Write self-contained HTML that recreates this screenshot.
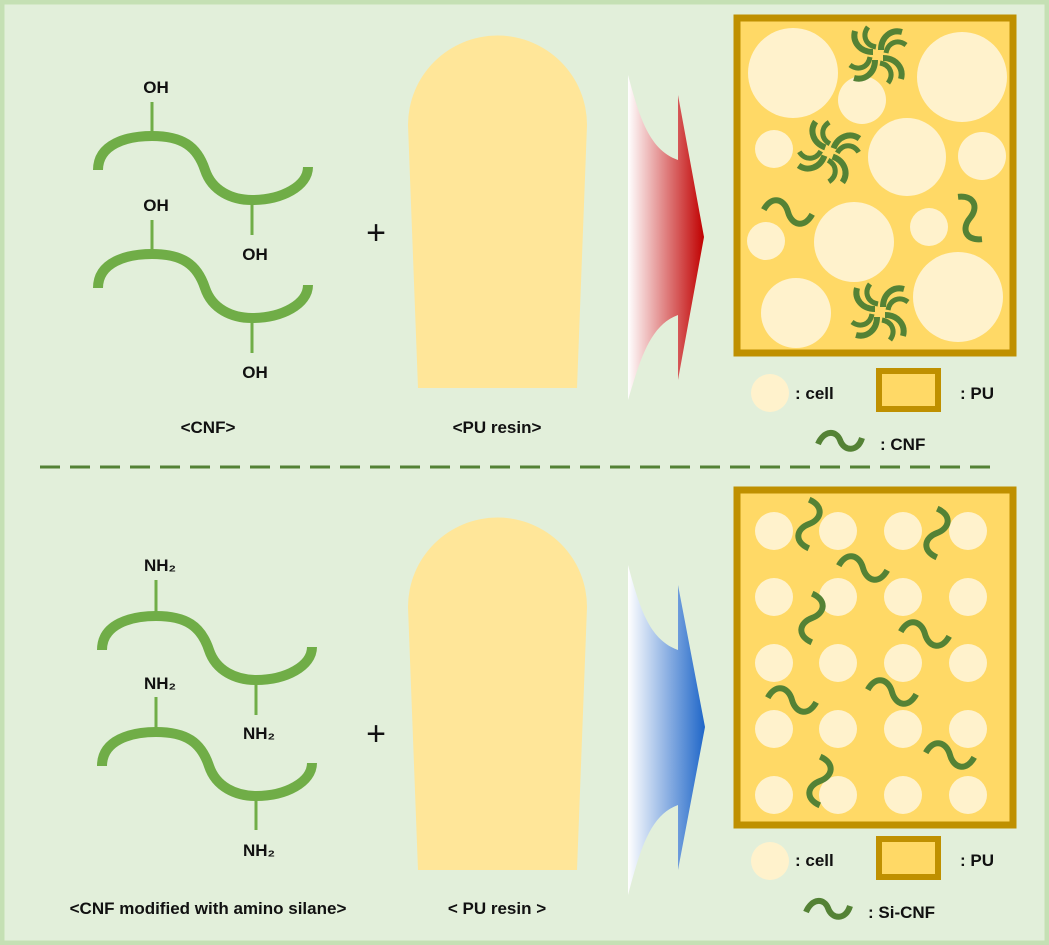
<!DOCTYPE html>
<html><head><meta charset="utf-8"><style>
body{margin:0;background:#e2efda;}
svg{display:block;}
text{font-family:"Liberation Sans",sans-serif;font-weight:bold;fill:#111;}
</style></head><body>
<svg width="1049" height="945" viewBox="0 0 1049 945" xmlns="http://www.w3.org/2000/svg">
<defs>
<linearGradient id="gr" x1="0" x2="1" y1="0" y2="0"><stop offset="0" stop-color="#fff"/><stop offset="1" stop-color="#c00000"/></linearGradient>
<linearGradient id="gb" x1="0" x2="1" y1="0" y2="0"><stop offset="0" stop-color="#fff"/><stop offset="1" stop-color="#1f66c8"/></linearGradient>
<g id="chain"><path d="M-54,34 C-54,8 -25,0 0,0 C30,0 45,10 53,34 C60,55 80,64 100,64 C130,64 156,50 156,31" fill="none" stroke="#70ad47" stroke-width="10"/></g>
<g id="sq"><path d="M-24,4 C-20,-12 -7,-12 0,0 C7,12 20,12 24,-4" fill="none" stroke="#548235" stroke-width="6"/></g>
<g id="hook"><path d="M3,-5 C3,-18 13,-26 24,-23" fill="none" stroke="#548235" stroke-width="6"/><path d="M8,-2 C10,-13 20,-16 28,-10" fill="none" stroke="#548235" stroke-width="5"/></g>
<g id="wm"><use href="#hook"/><use href="#hook" transform="rotate(90)"/><use href="#hook" transform="rotate(180)"/><use href="#hook" transform="rotate(270)"/></g>
<g id="pu"><path d="M408,125 A89,89 0 0 1 587,125 L577,388 L418,388 Z" fill="#ffe699"/></g>
</defs>
<rect x="2" y="2" width="1045" height="941" fill="#e2efda" stroke="#c5e0b4" stroke-width="5"/>

<g transform="translate(152,136)"><use href="#chain"/></g>
<line x1="152" y1="102" x2="152" y2="136" stroke="#70ad47" stroke-width="3"/>
<line x1="252" y1="200" x2="252" y2="235" stroke="#70ad47" stroke-width="3"/>
<g transform="translate(152,254)"><use href="#chain"/></g>
<line x1="152" y1="220" x2="152" y2="254" stroke="#70ad47" stroke-width="3"/>
<line x1="252" y1="318" x2="252" y2="353" stroke="#70ad47" stroke-width="3"/>
<g font-size="17" text-anchor="middle">
<text x="156" y="93">OH</text><text x="156" y="211">OH</text><text x="255" y="260">OH</text><text x="255" y="378">OH</text>
<text x="208" y="433">&lt;CNF&gt;</text><text x="497" y="433">&lt;PU resin&gt;</text>
</g>
<text x="376" y="244" font-size="34" text-anchor="middle" style="font-weight:normal">+</text>
<use href="#pu"/>
<path d="M628,75 C640,120 650,150 678,160 L678,95 L704,237 L678,380 L678,315 C650,325 640,360 628,400 Z" fill="url(#gr)"/>

<rect x="737" y="18" width="276" height="335" fill="#ffd966" stroke="#bf9000" stroke-width="7"/>
<g fill="#fff2cc">
<circle cx="793" cy="73" r="45"/><circle cx="962" cy="77" r="45"/><circle cx="862" cy="100" r="24"/>
<circle cx="774" cy="149" r="19"/><circle cx="907" cy="157" r="39"/><circle cx="982" cy="156" r="24"/>
<circle cx="766" cy="241" r="19"/><circle cx="854" cy="242" r="40"/><circle cx="929" cy="227" r="19"/>
<circle cx="796" cy="313" r="35"/><circle cx="958" cy="297" r="45"/>
</g>
<use href="#wm" transform="translate(878,55)"/><use href="#wm" transform="translate(829,152) rotate(20)"/><use href="#wm" transform="translate(880,312)"/>
<use href="#sq" transform="translate(788,212) rotate(15)"/><use href="#sq" transform="translate(970,218) rotate(70)"/>
<circle cx="770" cy="393" r="19" fill="#fff2cc"/>
<rect x="879" y="371" width="59" height="38" fill="#ffd966" stroke="#bf9000" stroke-width="6"/>
<g font-size="17"><text x="795" y="399">: cell</text><text x="960" y="399">: PU</text><text x="880" y="450">: CNF</text></g>
<path d="M818,444 C824,430 836,430 840,440 C844,452 858,452 862,438" fill="none" stroke="#548235" stroke-width="6"/>

<line x1="40" y1="467" x2="1000" y2="467" stroke="#548235" stroke-width="3" stroke-dasharray="20,10"/>

<g transform="translate(156,616)"><use href="#chain"/></g>
<line x1="156" y1="580" x2="156" y2="616" stroke="#70ad47" stroke-width="3"/>
<line x1="256" y1="680" x2="256" y2="715" stroke="#70ad47" stroke-width="3"/>
<g transform="translate(156,732)"><use href="#chain"/></g>
<line x1="156" y1="697" x2="156" y2="732" stroke="#70ad47" stroke-width="3"/>
<line x1="256" y1="796" x2="256" y2="830" stroke="#70ad47" stroke-width="3"/>
<g font-size="17" text-anchor="middle">
<text x="160" y="571">NH₂</text><text x="160" y="689">NH₂</text><text x="259" y="739">NH₂</text><text x="259" y="856">NH₂</text>
<text x="208" y="914">&lt;CNF modified with amino silane&gt;</text><text x="497" y="914">&lt; PU resin &gt;</text>
</g>
<text x="376" y="745" font-size="34" text-anchor="middle" style="font-weight:normal">+</text>
<use href="#pu" transform="translate(0,482)"/>
<path d="M628,565 C640,610 650,640 678,650 L678,585 L705,727 L678,870 L678,805 C650,815 640,850 628,895 Z" fill="url(#gb)"/>

<rect x="737" y="490" width="276" height="335" fill="#ffd966" stroke="#bf9000" stroke-width="7"/>
<g fill="#fff2cc">
<circle cx="774" cy="531" r="19"/><circle cx="838" cy="531" r="19"/><circle cx="903" cy="531" r="19"/><circle cx="968" cy="531" r="19"/>
<circle cx="774" cy="597" r="19"/><circle cx="838" cy="597" r="19"/><circle cx="903" cy="597" r="19"/><circle cx="968" cy="597" r="19"/>
<circle cx="774" cy="663" r="19"/><circle cx="838" cy="663" r="19"/><circle cx="903" cy="663" r="19"/><circle cx="968" cy="663" r="19"/>
<circle cx="774" cy="729" r="19"/><circle cx="838" cy="729" r="19"/><circle cx="903" cy="729" r="19"/><circle cx="968" cy="729" r="19"/>
<circle cx="774" cy="795" r="19"/><circle cx="838" cy="795" r="19"/><circle cx="903" cy="795" r="19"/><circle cx="968" cy="795" r="19"/>
</g>
<use href="#sq" transform="translate(809,524) rotate(100)"/><use href="#sq" transform="translate(937,533) rotate(100)"/>
<use href="#sq" transform="translate(863,568) rotate(15)"/><use href="#sq" transform="translate(812,618) rotate(100)"/>
<use href="#sq" transform="translate(925,634) rotate(15)"/><use href="#sq" transform="translate(892,692) rotate(15)"/>
<use href="#sq" transform="translate(792,700) rotate(15)"/><use href="#sq" transform="translate(950,755) rotate(15)"/>
<use href="#sq" transform="translate(820,781) rotate(100)"/>
<circle cx="770" cy="861" r="19" fill="#fff2cc"/>
<rect x="879" y="839" width="59" height="38" fill="#ffd966" stroke="#bf9000" stroke-width="6"/>
<g font-size="17"><text x="795" y="866">: cell</text><text x="960" y="866">: PU</text><text x="868" y="918">: Si-CNF</text></g>
<path d="M806,912 C812,898 824,898 828,908 C832,920 846,920 850,906" fill="none" stroke="#548235" stroke-width="6"/>
</svg>
</body></html>
